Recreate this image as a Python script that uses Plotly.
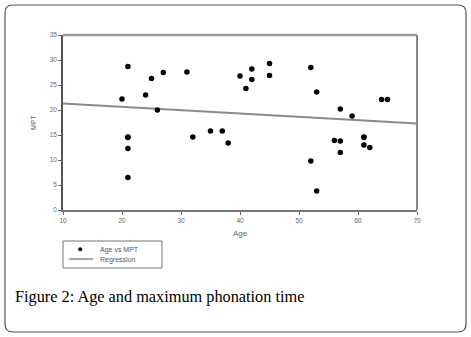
import plotly.graph_objects as go

age = [20, 21, 21, 21, 21, 21, 24, 25, 26, 27, 31, 32, 35, 37, 38, 40, 41, 42, 42, 45, 45,
       52, 53, 52, 53, 56, 57, 57, 57, 59, 61, 61, 61, 62, 64, 65]
mpt = [22.2, 28.7, 14.5, 14.6, 12.3, 6.5, 23.0, 26.3, 20.0, 27.5, 27.6, 14.6, 15.8, 15.8, 13.4,
       26.8, 24.3, 28.2, 26.1, 29.3, 26.9, 28.5, 23.6, 9.8, 3.8, 13.9, 13.8, 11.5, 20.2, 18.8,
       14.5, 14.6, 13.0, 12.5, 22.1, 22.1]
reg_x = [10, 70]
reg_y = [21.3, 17.3]
x_ticks = [10, 20, 30, 40, 50, 60, 70]
y_ticks = [0, 5, 10, 15, 20, 25, 30, 35]

W, H = 471, 337
L, R, T, B = 63, 417, 35, 210

def px(x):
    return (x - L) / (R - L)

def py(y):
    return (B - y) / (B - T)

fig = go.Figure()
fig.add_trace(go.Scatter(x=reg_x, y=reg_y, mode="lines", name="Regression",
                         line=dict(color="#8a8a8a", width=2)))
fig.add_trace(go.Scatter(x=age, y=mpt, mode="markers", name="Age vs MPT",
                         marker=dict(color="black", size=5.5, symbol="circle")))

# outer rounded frame
x0, x1, y0, y1 = px(5), px(466), py(332), py(5)
rx, ry = 8 / (R - L), 8 / (B - T)
path = (f"M {x0+rx},{y0} L {x1-rx},{y0} Q {x1},{y0} {x1},{y0+ry} "
        f"L {x1},{y1-ry} Q {x1},{y1} {x1-rx},{y1} L {x0+rx},{y1} "
        f"Q {x0},{y1} {x0},{y1-ry} L {x0},{y0+ry} Q {x0},{y0} {x0+rx},{y0} Z")
fig.add_shape(type="path", path=path, xref="paper", yref="paper",
              line=dict(color="#555555", width=1.2), layer="below")

fig.add_annotation(text="Figure 2: Age and maximum phonation time", xref="paper", yref="paper",
                   x=px(13), y=py(296), xanchor="left", yanchor="middle", showarrow=False,
                   font=dict(family="Liberation Serif, DejaVu Serif, serif", size=16.3, color="black"))

# legend box (drawn manually for compact spacing)
fig.add_shape(type="rect", xref="paper", yref="paper", x0=px(63), x1=px(162), y0=py(268), y1=py(241),
              line=dict(color="#777777", width=1), fillcolor="white")
fig.add_shape(type="circle", xref="paper", yref="paper", x0=px(78.5), x1=px(82), y0=py(251), y1=py(247.5),
              line=dict(color="black", width=0.5), fillcolor="black")
fig.add_shape(type="line", xref="paper", yref="paper", x0=px(69), x1=px(93), y0=py(259), y1=py(259),
              line=dict(color="#8a8a8a", width=1.5))
fig.add_annotation(text="Age vs MPT", xref="paper", yref="paper", x=px(98), y=py(249.5),
                   xanchor="left", yanchor="middle", showarrow=False,
                   font=dict(size=7, color="#555555"))
fig.add_annotation(text="Regression", xref="paper", yref="paper", x=px(98), y=py(259.5),
                   xanchor="left", yanchor="middle", showarrow=False,
                   font=dict(size=7, color="#555555"))

fig.update_layout(
    width=W, height=H,
    margin=dict(l=L, r=W - R, t=T, b=H - B),
    paper_bgcolor="white", plot_bgcolor="white",
    font=dict(family="Liberation Sans, Arial, sans-serif", color="#666666", size=7),
    showlegend=False,
    xaxis=dict(range=[10, 70], tickvals=x_ticks, ticks="outside", ticklen=3,
               tickcolor="#666666", showline=True, linecolor="#777777", linewidth=1.5,
               mirror=False, showgrid=False, zeroline=False,
               tickfont=dict(size=6.5, color="#666666"),
               title=dict(text="Age", font=dict(size=8, color="#666666"), standoff=8)),
    yaxis=dict(range=[0, 35], tickvals=y_ticks, ticks="outside", ticklen=3,
               tickcolor="#666666", showline=True, linecolor="#555555", linewidth=1.5,
               showgrid=False, zeroline=False,
               tickfont=dict(size=6.5, color="#666666"),
               title=dict(text="MPT", font=dict(size=7, color="#666666"), standoff=12)),
)
# top and right frame lines
fig.add_shape(type="line", xref="paper", yref="paper", x0=0, x1=1, y0=1, y1=1,
              line=dict(color="#999999", width=2.5))
fig.add_shape(type="line", xref="paper", yref="paper", x0=1, x1=1, y0=0, y1=1,
              line=dict(color="#888888", width=2))

fig.write_html("out.html", config={"displayModeBar": False},
               post_script="document.body.style.margin='0';")
